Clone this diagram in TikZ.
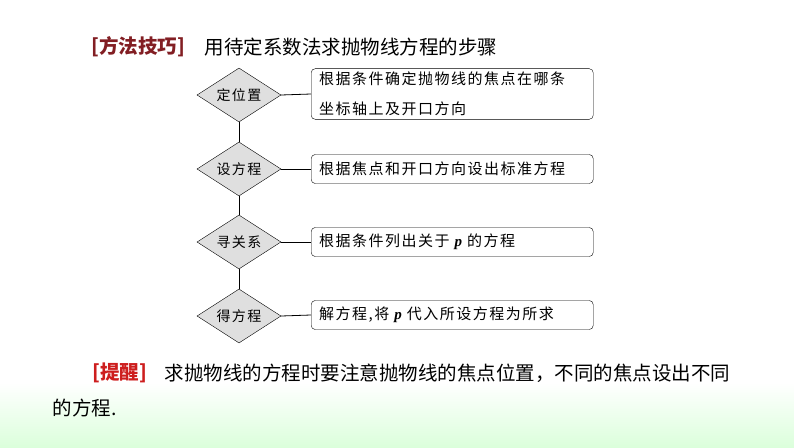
\documentclass[tikz,border=0pt]{standalone}
\usepackage{fontspec}
\setmainfont{Liberation Serif}
\newfontfamily\cjk{Noto Sans CJK SC}
\newfontfamily\cjksp[LetterSpace=10]{Noto Sans CJK SC}
\usetikzlibrary{shapes.geometric}
\definecolor{tipred}{RGB}{130,30,35}
\definecolor{remred}{RGB}{205,30,30}
\newcommand{\pvar}{{\rmfamily\bfseries\itshape p}}
\begin{document}
\begin{tikzpicture}[x=1pt,y=-1pt,
  dia/.style={diamond,draw,fill=gray!25,aspect=1.55,minimum width=84pt,minimum height=54pt,inner sep=0pt,font=\cjksp\fontsize{14}{16}\selectfont},
  stepbox/.style={draw,rounded corners=4pt,anchor=west,align=left,inner xsep=8pt,text width=266pt,font=\cjksp\fontsize{15}{30}\selectfont},
  big/.style={anchor=west,font=\cjk\fontsize{19.5}{22}\selectfont},
  line/.style={thick}]
\useasboundingbox (0,0) rectangle (794,447);
\shade[top color=white,bottom color=green!14!white] (0,383) rectangle (794,447);
\node[big,text=tipred,font=\cjk\bfseries\fontsize{19.5}{22}\selectfont] (t1) at (88,47) {[方法技巧]};
\node[big] (t2) at (201,47) {用待定系数法求抛物线方程的步骤};
\node[dia] (d1) at (239,95) {定位置};
\node[dia] (d2) at (239,169) {设方程};
\node[dia] (d3) at (239,242) {寻关系};
\node[dia] (d4) at (239,316) {得方程};
\node[stepbox,minimum height=50pt] (b1) at (311,94) {根据条件确定抛物线的焦点在哪条\\坐标轴上及开口方向};
\node[stepbox,minimum height=29pt] (b2) at (311,169) {根据焦点和开口方向设出标准方程};
\node[stepbox,minimum height=29pt] (b3) at (311,242) {根据条件列出关于 \pvar{} 的方程};
\node[stepbox,minimum height=29pt] (b4) at (311,315) {解方程,将 \pvar{} 代入所设方程为所求};
\draw[line] (d1) -- (d2) (d2) -- (d3) (d3) -- (d4);
\draw[line] (d1.east) -- (b1.west);
\draw[line] (d2.east) -- (b2.west);
\draw[line] (d3.east) -- (b3.west);
\draw[line] (d4.east) -- (b4.west);
\node[big,text=remred,font=\cjk\bfseries\fontsize{19.5}{22}\selectfont] (r1) at (89,373) {[提醒]};
\node[big] (r2) at (161,373) {求抛物线的方程时要注意抛物线的焦点位置，不同的焦点设出不同};
\node[big] (r3) at (49,408) {的方程.};
\end{tikzpicture}
\end{document}
